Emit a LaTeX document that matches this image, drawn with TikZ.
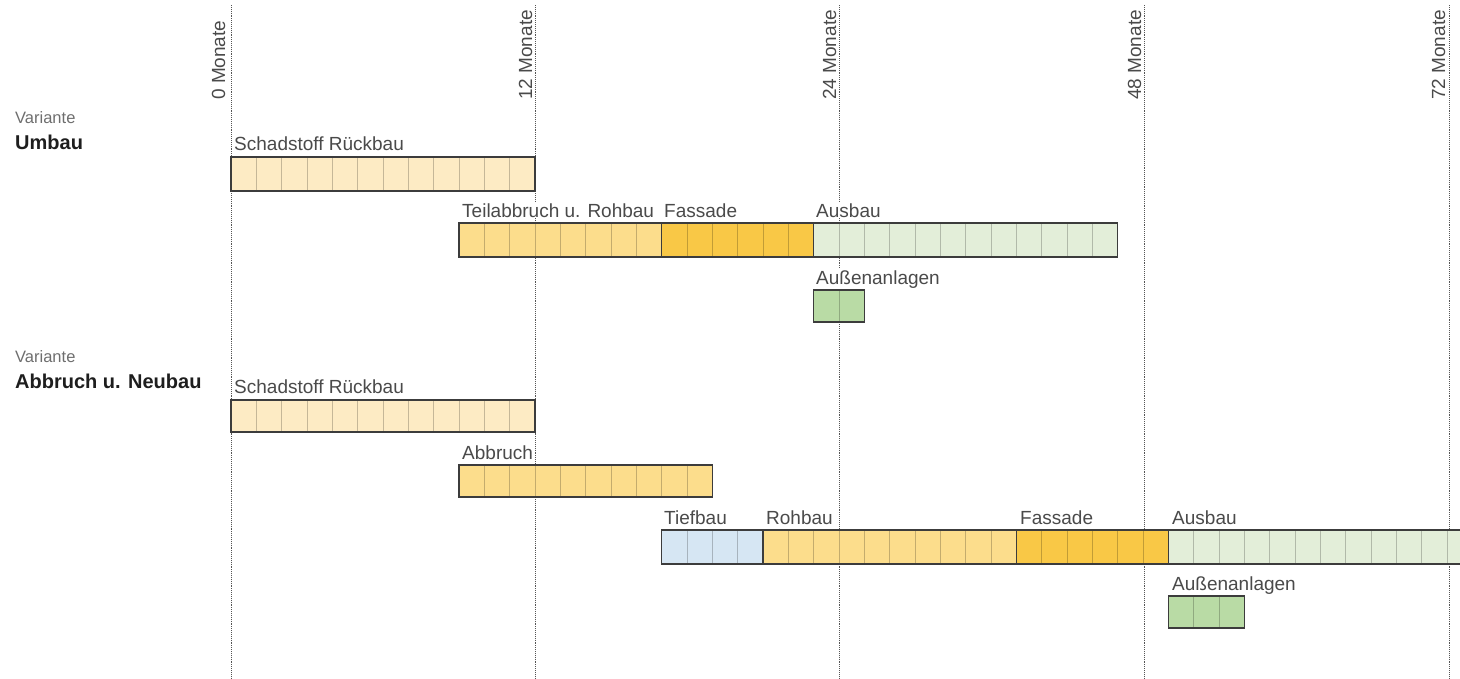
\documentclass[tikz,border=0pt]{standalone}
\usepackage{fontspec}
\setmainfont{Liberation Sans}
\definecolor{txt}{HTML}{4A4A4A}
\definecolor{txtdark}{HTML}{1E1E1E}
\definecolor{gridc}{HTML}{555555}
\definecolor{edge}{HTML}{3C3C3C}
\definecolor{cschad}{HTML}{FDEBC4}
\definecolor{croh}{HTML}{FCDD8C}
\definecolor{cfas}{HTML}{F9C846}
\definecolor{caus}{HTML}{E3EED9}
\definecolor{caussen}{HTML}{B9DBA5}
\definecolor{ctief}{HTML}{D6E6F3}
\newcommand\cw{25.3333}
\newcommand\gbar[6]{%
  \node[barfill, fill=#6, minimum width={#3*\cw pt}, minimum height={#5 pt}, anchor=north west] (#1) at ({231+#2*\cw},#4) {};
  \pgfmathtruncatemacro\gbarlast{#3-1}%
  \foreach \i in {1,...,\gbarlast}{\draw[cellline] ([xshift=\i*\cw pt]#1.north west) -- ([xshift=\i*\cw pt]#1.south west);}
  \draw[barborder] (#1.north west) rectangle (#1.south east);
}
\begin{document}
\begin{tikzpicture}[x=1pt,y=-1pt,
  barfill/.style={rectangle, inner sep=0pt, outer sep=0pt},
  cellline/.style={draw=black, draw opacity=0.22, line width=0.8pt},
  barborder/.style={draw=edge, line width=1.4pt},
  lab/.style={anchor=base west, inner sep=1pt, fill=white, text=txt, font=\fontsize{19}{22}\selectfont},
  monat/.style={rotate=90, anchor=base west, inner sep=0pt, text=txt, font=\fontsize{19}{22}\selectfont},
  var/.style={anchor=base west, inner sep=0pt, text=txt!80, font=\fontsize{16.5}{19}\selectfont},
  varname/.style={anchor=base west, inner sep=0pt, text=txtdark, font=\fontsize{20}{24}\selectfont\bfseries},
  gridline/.style={draw=gridc, line width=0.9pt, densely dotted}]
\useasboundingbox (0,0) rectangle (1460,678);
\clip (0,0) rectangle (1460,678);
% time grid
\foreach \n/\x in {m0/231, m12/535, m24/839, m48/1144, m72/1449}{
  \coordinate (\n top) at (\x,5);
  \coordinate (\n bot) at (\x,678);
  \draw[gridline] (\n top) -- (\n bot);
}
\node[monat] (l0) at (225,100) {0 Monate};
\node[monat] (l12) at (532,100) {12 Monate};
\node[monat] (l24) at (836,100) {24 Monate};
\node[monat] (l48) at (1141,100) {48 Monate};
\node[monat] (l72) at (1445,100) {72 Monate};
% Variante Umbau
\node[var] (v1) at (15,123) {Variante};
\node[varname] (v1n) at (15,149) {Umbau};
\node[lab] (tU1) at (233,150) {Schadstoff Rückbau};
\gbar{U1}{0}{12}{157}{34}{cschad}
\node[lab] (tU2) at (461,217) {Teilabbruch u. Rohbau};
\node[lab] (tU3) at (663,217) {Fassade};
\node[lab] (tU4) at (815,217) {Ausbau};
\gbar{U2}{9}{8}{223}{34}{croh}
\gbar{U3}{17}{6}{223}{34}{cfas}
\gbar{U4}{23}{12}{223}{34}{caus}
\node[lab] (tU5) at (815,284) {Außenanlagen};
\gbar{U5}{23}{2}{290}{32}{caussen}
% Variante Abbruch u. Neubau
\node[var] (v2) at (15,362) {Variante};
\node[varname] (v2n) at (15,388) {Abbruch u. Neubau};
\node[lab] (tN1) at (233,393) {Schadstoff Rückbau};
\gbar{N1}{0}{12}{400}{32}{cschad}
\node[lab] (tN2) at (461,459) {Abbruch};
\gbar{N2}{9}{10}{465}{32}{croh}
\node[lab] (tN3) at (663,524) {Tiefbau};
\node[lab] (tN4) at (765,524) {Rohbau};
\node[lab] (tN5) at (1019,524) {Fassade};
\node[lab] (tN6) at (1171,524) {Ausbau};
\gbar{N3}{17}{4}{530}{34}{ctief}
\gbar{N4}{21}{10}{530}{34}{croh}
\gbar{N5}{31}{6}{530}{34}{cfas}
\gbar{N6}{37}{12}{530}{34}{caus}
\node[lab] (tN7) at (1171,590) {Außenanlagen};
\gbar{N7}{37}{3}{596}{32}{caussen}
\end{tikzpicture}
\end{document}
